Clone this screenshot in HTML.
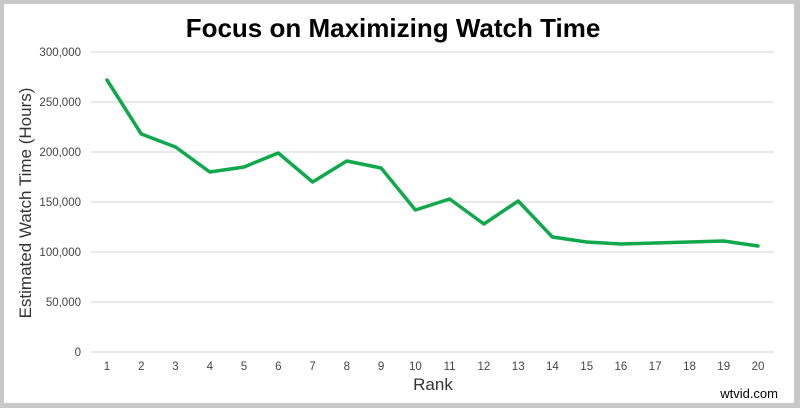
<!DOCTYPE html>
<html><head><style>
body{margin:0;width:800px;height:408px;overflow:hidden;background:#fff}
</style></head><body>
<svg width="800" height="408" xmlns="http://www.w3.org/2000/svg" font-family="Liberation Sans, sans-serif">
<rect x="0" y="0" width="800" height="408" fill="#c8c8c8"/>
<rect x="4" y="4" width="790" height="399" fill="#fff"/>
<text x="393" y="37" text-anchor="middle" font-size="26" font-weight="bold" fill="#000">Focus on Maximizing Watch Time</text>
<g stroke="#dcdcdc" stroke-width="1.3">
<line x1="91" x2="774" y1="52" y2="52"/><line x1="91" x2="774" y1="102" y2="102"/>
<line x1="91" x2="774" y1="152" y2="152"/><line x1="91" x2="774" y1="202" y2="202"/>
<line x1="91" x2="774" y1="252" y2="252"/><line x1="91" x2="774" y1="302" y2="302"/>
<line x1="91" x2="774" y1="352" y2="352"/>
</g>
<g font-size="11.5" fill="#444" text-anchor="end">
<text x="81" y="56">300,000</text><text x="81" y="106">250,000</text>
<text x="81" y="156">200,000</text><text x="81" y="206">150,000</text>
<text x="81" y="256">100,000</text><text x="81" y="306">50,000</text>
<text x="81" y="356">0</text>
</g>
<g font-size="11.5" fill="#444" text-anchor="middle">
<text x="107" y="370">1</text><text x="141.3" y="370">2</text><text x="175.5" y="370">3</text><text x="209.8" y="370">4</text><text x="244" y="370">5</text><text x="278.3" y="370">6</text><text x="312.6" y="370">7</text><text x="346.8" y="370">8</text><text x="381.1" y="370">9</text><text x="415.4" y="370">10</text><text x="449.6" y="370">11</text><text x="483.9" y="370">12</text><text x="518.2" y="370">13</text><text x="552.4" y="370">14</text><text x="586.7" y="370">15</text><text x="620.9" y="370">16</text><text x="655.2" y="370">17</text><text x="689.5" y="370">18</text><text x="723.7" y="370">19</text><text x="758" y="370">20</text>
</g>
<text x="433" y="390" text-anchor="middle" font-size="17" fill="#333">Rank</text>
<text transform="translate(31,203) rotate(-90)" text-anchor="middle" font-size="17" fill="#333">Estimated Watch Time (Hours)</text>
<polyline fill="none" stroke="#0fa84a" stroke-width="3.5" stroke-linejoin="round" stroke-linecap="round"
points="107,80 141.3,134 175.5,147 209.8,172 244,167 278.3,153 312.6,182 346.8,161 381.1,168 415.4,210 449.6,199 483.9,224 518.2,201 552.4,237 586.7,242 620.9,244 655.2,243 689.5,242 723.7,241 758,246"/>
<text x="778" y="398" text-anchor="end" font-size="13" fill="#000">wtvid.com</text>
</svg>
</body></html>
